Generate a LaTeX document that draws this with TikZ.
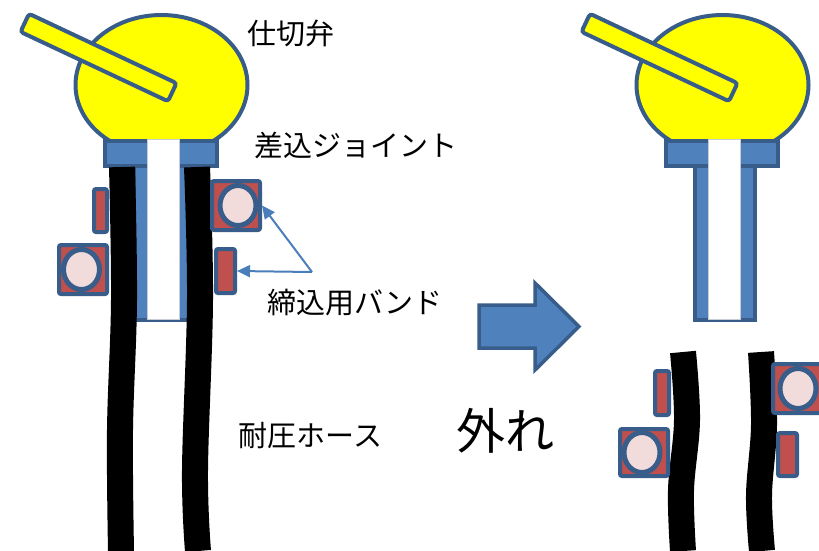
\documentclass[tikz,border=0pt]{standalone}
\usepackage{fontspec}
\newfontfamily\jpfont{Noto Sans CJK JP}
\usetikzlibrary{arrows.meta,shapes.geometric}
\definecolor{edgeblue}{HTML}{385D8A}
\definecolor{bodyblue}{HTML}{4F81BD}
\definecolor{valveyellow}{HTML}{FFFF00}
\definecolor{bandred}{HTML}{C0504D}
\definecolor{bandpink}{HTML}{F2DCDB}
\definecolor{pointerblue}{HTML}{4A7EBB}
\definecolor{slotedge}{HTML}{C8CCD4}
\begin{document}
\begin{tikzpicture}[x=1pt,y=-1pt,
  outline/.style={draw=edgeblue,line width=4pt},
  ballpart/.style={outline,fill=valveyellow},
  handlebar/.style={outline,fill=valveyellow,rectangle,rounded corners=3pt,
    inner sep=0pt,minimum width=163pt,minimum height=20pt,rotate=-25.2},
  bluepart/.style={outline,fill=bodyblue},
  slot/.style={fill=white,draw=slotedge,line width=0.8pt},
  hose/.style={draw=black,line width=26pt,line cap=butt},
  bandbar/.style={outline,fill=bandred,rectangle,rounded corners=2pt,inner sep=0pt},
  bandsq/.style={outline,fill=bandred,rectangle,rounded corners=2pt,inner sep=0pt,
    minimum width=48pt,minimum height=49pt},
  bandring/.style={outline,line width=5pt,fill=bandpink,ellipse,inner sep=0pt,
    minimum width=36pt,minimum height=40pt},
  pointer/.style={draw=pointerblue,line width=2pt,-{Triangle[length=13pt,width=12pt]}},
  txt/.style={font=\jpfont\fontsize{29}{29}\selectfont,inner sep=0pt,text=black},
  bigtxt/.style={font=\jpfont\fontsize{49}{49}\selectfont,inner sep=0pt,text=black},
  valve/.pic={
    % valve body: ellipse cut flat at the joint
    \begin{scope}
      \clip (0,0) rectangle (330,140);
      \draw[ballpart] (161.5,85) ellipse [x radius=86,y radius=70];
    \end{scope}
    % operating lever
    \node[handlebar] (-lever) at (98.5,57.5) {};
    % spigot of the insert joint
    \draw[bluepart] (134,150) rectangle (194,320);
    % joint flange
    \draw[bluepart] (105,141) rectangle (217,166);
    % bore
    \draw[slot] (147,139) rectangle (179,319);
  }
]
\useasboundingbox (0,0) rectangle (819,550);

% ---------- connected state ----------
\pic (vl) at (0,0) {valve};
\draw[hose] plot[smooth,tension=0.6] coordinates {(122,167) (124,300) (120,430) (121,551)};
\draw[hose] plot[smooth,tension=0.6] coordinates {(197,167) (200,300) (195,470) (198,551)};

\node[bandbar,minimum width=13pt,minimum height=43pt] (barLa) at (100.5,210.5) {};
\node[bandsq] (sqLa) at (83,269.5) {};
\node[bandring] (ringLa) at (81.5,269.5) {};
\node[bandsq] (sqLb) at (236,205.5) {};
\node[bandring] (ringLb) at (238,205.5) {};
\node[bandbar,minimum width=19pt,minimum height=44pt] (barLb) at (225.5,271) {};

\coordinate (apex) at (312,272);
\draw[pointer] (apex) -- (sqLb.east);
\draw[pointer] (apex) -- (barLb.east);

% ---------- labels ----------
\node[txt] (tValve) at (290.5,33) {仕切弁};
\node[txt] (tJoint) at (356,145) {差込ジョイント};
\node[txt] (tBand) at (355,303) {締込用バンド};
\node[txt] (tHose) at (310.5,436) {耐圧ホース};
\node[bigtxt] (tOff) at (505,431) {外れ};

% ---------- transition arrow ----------
\draw[outline,line width=3.5pt,fill=bodyblue,line join=miter]
  (479,305) -- (535,305) -- (535,283) -- (579,326.5) -- (535,370) -- (535,348) -- (479,348) -- cycle;

% ---------- disconnected state ----------
\pic (vr) at (561,0) {valve};
\draw[hose] plot[smooth,tension=0.6] coordinates {(683,352) (687,420) (681,490) (683,551)};
\draw[hose] plot[smooth,tension=0.6] coordinates {(761,352) (764,425) (759,495) (762,551)};

\node[bandbar,minimum width=14pt,minimum height=44pt] (barRa) at (662,393) {};
\node[bandsq,minimum height=47pt] (sqRa) at (644,452.5) {};
\node[bandring] (ringRa) at (642,452.5) {};
\node[bandsq] (sqRb) at (797,388.5) {};
\node[bandring] (ringRb) at (798,388.5) {};
\node[bandbar,minimum width=19pt,minimum height=43pt] (barRb) at (787.5,454.5) {};
\end{tikzpicture}
\end{document}
